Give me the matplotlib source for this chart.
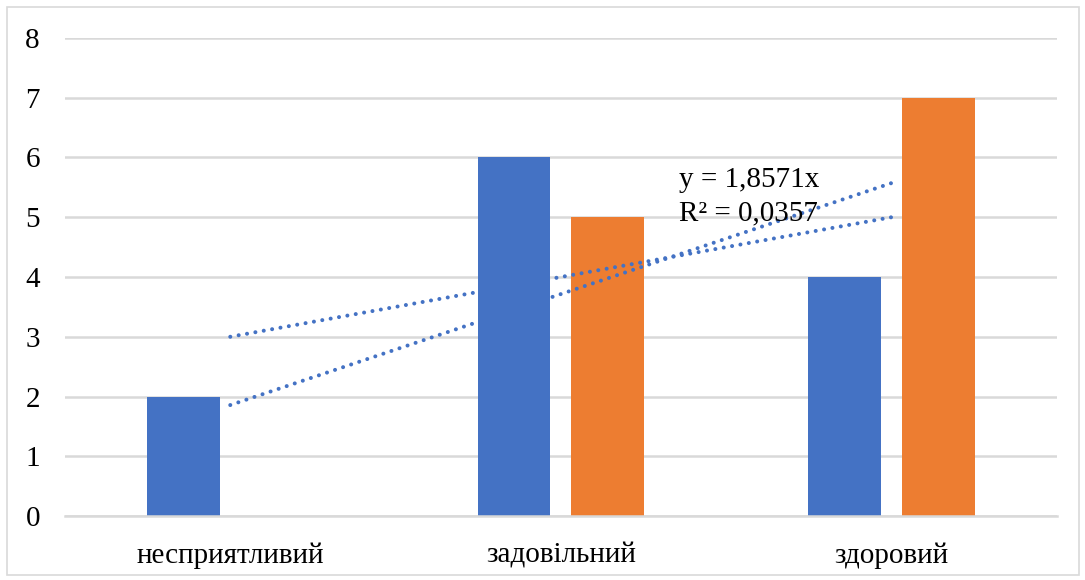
import numpy as np
import matplotlib.pyplot as plt
from matplotlib.patches import Rectangle

categories = ['несприятливий', 'задовільний', 'здоровий']
series_blue = [2, 6, 4]
series_orange = [0, 5, 7]
eq_text = 'y = 1,8571x\nR² = 0,0357'

blue = '#4472c4'
orange = '#ed7d31'
grid_c = '#d9d9d9'

plt.rcParams['font.family'] = ['Liberation Serif', 'DejaVu Serif']

fig = plt.figure(figsize=(10.85, 5.8), dpi=100)
ax = fig.add_axes([0.0599, 0.1103, 0.914, 0.8242])

x = np.arange(1, len(categories) + 1)
w = 0.22
off = 0.142
ax.bar(x - off, series_blue, w, color=blue, zorder=2)
ax.bar(x + off, series_orange, w, color=orange, zorder=2)

# trendlines: ordinary linear fit and fit through the origin
k, b = np.polyfit(x, series_blue, 1)
k0 = np.dot(x, series_blue) / np.dot(x, x)
xs = np.array([x[0], x[-1]], dtype=float)
dots = (0, (0.01, 2.1))
ax.plot(xs, k * xs + b, color=blue, lw=2.9, linestyle=dots,
        dash_capstyle='round', zorder=3)
ax.plot(xs, k0 * xs, color=blue, lw=2.9, linestyle=dots,
        dash_capstyle='round', zorder=3)

ax.text(2.358, 5.84, eq_text, fontsize=21, va='top', ha='left',
        linespacing=1.38, zorder=4)

ax.set_xlim(0.5, 3.5)
ax.set_ylim(0, 8)
ax.set_yticks(range(0, 9))
ax.set_xticks(x)
ax.set_xticklabels(categories)
ax.yaxis.grid(True, color=grid_c, lw=1.8, zorder=0)
for s in ['top', 'right', 'left']:
    ax.spines[s].set_visible(False)
ax.spines['bottom'].set_color(grid_c)
ax.spines['bottom'].set_linewidth(1.8)
ax.tick_params(axis='both', length=0, labelsize=21)
ax.tick_params(axis='y', pad=18)
ax.tick_params(axis='x', pad=19)

fig.patches.append(Rectangle((0.0065, 0.009), 0.988, 0.979,
                             transform=fig.transFigure, fill=False,
                             edgecolor=grid_c, lw=1.2))

fig.savefig('out.png', dpi=100)
